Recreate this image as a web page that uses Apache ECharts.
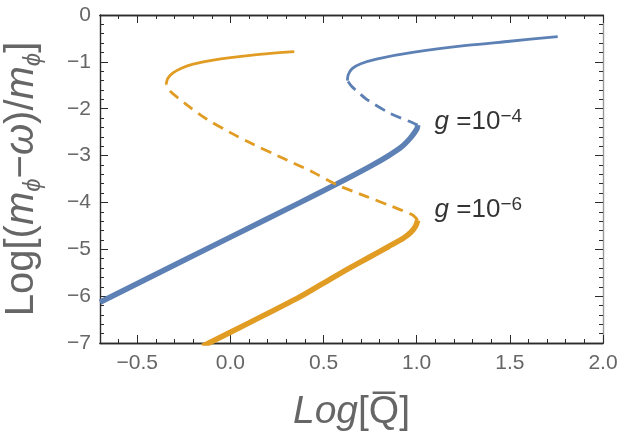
<!DOCTYPE html>
<html>
<head>
<meta charset="utf-8">
<script src="https://cdn.jsdelivr.net/npm/echarts@6/dist/echarts.min.js"></script>
<style>
  html, body { margin: 0; padding: 0; background: #fff; }
  #chart { width: 623px; height: 436px; }
</style>
</head>
<body>
<div id="chart"></div>
<script>
// curve data: [Log Qbar, Log((m-w)/m)]
const blueStable = [[-0.70, -6.13], [0.0, -4.74], [0.37, -4.01], [0.569, -3.61], [0.75, -3.23], [0.85, -3.00], [0.92, -2.81], [0.965, -2.63], [0.99, -2.50], [1.003, -2.41], [1.005, -2.35]];
const blueUnstable = [[1.005, -2.35], [0.978, -2.30], [0.853, -2.09], [0.735, -1.81], [0.692, -1.67], [0.648, -1.51], [0.628, -1.40]];
const blueUpper = [[0.628, -1.40], [0.633, -1.27], [0.655, -1.14], [0.70, -1.04], [0.784, -0.94], [0.978, -0.80], [1.268, -0.65], [1.50, -0.56], [1.757, -0.46]];

const orangeStable = [[-0.15, -7.07], [0.10, -6.57], [0.37, -6.02], [0.50, -5.72], [0.639, -5.40], [0.75, -5.16], [0.85, -4.94], [0.93, -4.76], [0.97, -4.63], [0.995, -4.50], [1.005, -4.38]];
const orangeUnstable = [[1.005, -4.38], [0.978, -4.27], [0.87, -4.09], [0.728, -3.87], [0.569, -3.62], [0.441, -3.35], [0.262, -3.02], [0.117, -2.75], [0.0, -2.51], [-0.128, -2.22], [-0.23, -1.93], [-0.325, -1.62], [-0.345, -1.48]];
const orangeUpper = [[-0.345, -1.48], [-0.337, -1.36], [-0.31, -1.24], [-0.26, -1.13], [-0.20, -1.05], [-0.10, -0.97], [0.0, -0.91], [0.155, -0.84], [0.343, -0.78]];

const xTicks = [-0.5, 0.0, 0.5, 1.0, 1.5, 2.0];
const curveLabels = ['{i|g} ={n|10}{s|−4}', '{i|g} ={n|10}{s|−6}'];
const curveLabelAt = [[1.096, -2.28], [1.096, -4.16]];

const blue = '#5E81B5';
const orange = '#E19C24';
const frame = '#2b2b2b';
const grey = '#666666';
const font = 'Liberation Sans';

// minor ticks every 0.1 along x
const xMinor = [];
for (let k = -7; k <= 20; k++) xMinor.push(k / 10);

function xFmt(v) { return v.toFixed(1).replace('-', '\u2212'); }
function yFmt(v) { return String(v).replace('-', '\u2212'); }

const chart = echarts.init(document.getElementById('chart'));

function xAx(pos, ticks, len, labels, extra) {
  return Object.assign({
    type: 'value', min: -0.7, max: 2.0, position: pos,
    axisLine: { show: true, onZero: false, lineStyle: { color: frame, width: 1.4 } },
    axisTick: { show: true, inside: true, length: len, customValues: ticks, lineStyle: { color: frame, width: 1 } },
    axisLabel: labels ? { show: true, customValues: xTicks, formatter: xFmt, fontFamily: font, fontSize: 21, color: grey, margin: 10 } : { show: false },
    splitLine: { show: false }
  }, extra || {});
}

function yAx(pos, labels, extra) {
  return Object.assign({
    type: 'value', min: -7, max: 0, interval: 1, position: pos,
    axisLine: { show: true, onZero: false, lineStyle: { color: pos === 'right' ? '#999' : frame, width: 1.4 } },
    axisTick: { show: true, inside: true, length: 8, lineStyle: { color: frame, width: 1 } },
    minorTick: { show: true, splitNumber: 5, length: 4, lineStyle: { color: frame, width: 1 } },
    axisLabel: labels ? { show: true, formatter: yFmt, fontFamily: font, fontSize: 21, color: grey, margin: 9 } : { show: false },
    splitLine: { show: false }
  }, extra || {});
}

function line(data, color, width, dashed) {
  return {
    type: 'line', data: data, xAxisIndex: 0, yAxisIndex: 0,
    showSymbol: false, smooth: 0.3, clip: true, silent: true,
    lineStyle: { color: color, width: width, type: dashed ? [11, 7] : 'solid', cap: 'butt' }
  };
}

chart.setOption({
  backgroundColor: '#fff',
  animation: false,
  grid: { left: 100, right: 20, top: 15, bottom: 93, containLabel: false, outerBoundsMode: 'none' },
  xAxis: [
    xAx('bottom', xTicks, 8, true, {
      name: '{i|Log}{r|[Q\u0305]}',
      nameLocation: 'middle', nameGap: 50,
      nameTextStyle: {
        fontFamily: font, fontSize: 39, color: grey,
        rich: {
          i: { fontFamily: font, fontSize: 39, fontStyle: 'italic', color: grey },
          r: { fontFamily: font, fontSize: 39, color: grey }
        }
      }
    }),
    xAx('bottom', xMinor, 4, false),
    xAx('top', xTicks, 8, false),
    xAx('top', xMinor, 4, false)
  ],
  yAxis: [
    yAx('left', true, {
      name: '{r|Log[(}{i|m}{s|\u03D5}{r|\u2212}{i|\u03C9}{r|)/}{i|m}{s|\u03D5}{r|]}',
      nameLocation: 'middle', nameGap: 55, nameRotate: 90,
      nameTextStyle: {
        fontFamily: font, fontSize: 40, color: grey,
        rich: {
          r: { fontFamily: font, fontSize: 40, color: grey, lineHeight: 46 },
          i: { fontFamily: font, fontSize: 40, fontStyle: 'italic', color: grey, lineHeight: 46 },
          s: { fontFamily: font, fontSize: 24, fontStyle: 'italic', color: grey, lineHeight: 18, verticalAlign: 'bottom' }
        }
      }
    }),
    yAx('right', false)
  ],
  series: [
    line(blueStable, blue, 5.5, false),
    line(blueUnstable, blue, 2.8, true),
    line(blueUpper, blue, 2.8, false),
    line(orangeStable, orange, 5.5, false),
    line(orangeUnstable, orange, 2.8, true),
    line(orangeUpper, orange, 2.8, false),
    {
      type: 'scatter', xAxisIndex: 0, yAxisIndex: 0, symbolSize: 0, silent: true,
      data: curveLabelAt.map(function (p, i) { return { value: p, label: { formatter: curveLabels[i] } }; }),
      label: {
        show: true, position: 'right', distance: 0, align: 'left', verticalAlign: 'middle',
        rich: {
          i: { fontFamily: font, fontSize: 26, fontStyle: 'italic', color: '#000', lineHeight: 30 },
          n: { fontFamily: font, fontSize: 26, color: '#000', lineHeight: 30 },
          s: { fontFamily: font, fontSize: 19, color: '#000', lineHeight: 6, verticalAlign: 'top' }
        },
        fontFamily: font, fontSize: 26, color: '#000', lineHeight: 30
      }
    }
  ]
});
</script>
</body>
</html>
